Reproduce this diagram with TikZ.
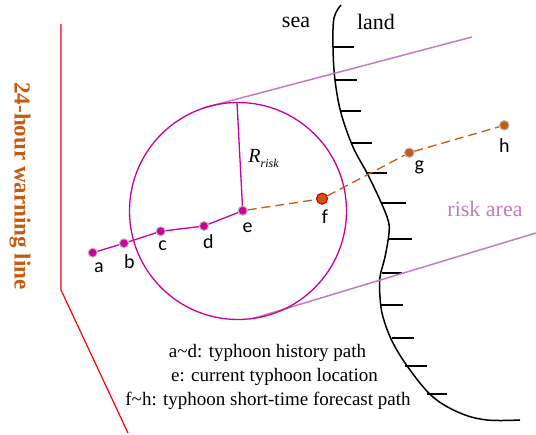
\documentclass[tikz,border=0pt]{standalone}
\usepackage{fontspec}
\setmainfont{Liberation Serif}
\newfontfamily\labfont{Carlito}
\definecolor{mag}{HTML}{CC0099}
\definecolor{purp}{HTML}{C27DC0}
\definecolor{orng}{HTML}{C55A11}
\definecolor{halo}{HTML}{B8B8B8}
\tikzset{
  hdot/.style={circle,fill=mag,draw=halo,line width=1pt,inner sep=0pt,minimum size=9pt},
  fdot/.style={circle,fill=orng,draw=red!85!black,line width=1.2pt,inner sep=0pt,minimum size=11pt},
  gdot/.style={circle,fill=orng,draw=halo,line width=1pt,inner sep=0pt,minimum size=9.5pt},
  lab/.style={font=\labfont\fontsize{20}{20}\selectfont,inner sep=0pt},
  legend/.style={font=\rmfamily\fontsize{19}{19}\selectfont,inner sep=0pt},
  bigtext/.style={font=\rmfamily\fontsize{22}{22}\selectfont,inner sep=0pt},
  histline/.style={draw=mag,line width=1.3pt},
  fcline/.style={draw=orng,line width=1.3pt,dash pattern=on 9pt off 5pt},
  tangent/.style={draw=purp,line width=1.5pt},
  coast/.style={draw=black,line width=1.5pt},
}
\begin{document}
\begin{tikzpicture}[x=1pt,y=-1pt]
\useasboundingbox (0,0) rectangle (536,435);
% warning line
\draw[red,line width=1.2pt] (61,24) -- (61,290) -- (128,433);
\node[rotate=-90,inner sep=0pt,text=orng,font=\rmfamily\bfseries\fontsize{23}{23}\selectfont] (warn) at (20,186) {24-hour warning line};
% coast
\draw[coast] plot[smooth,tension=0.6] coordinates {(341,5) (334,18) (333,47) (335,80) (341,113) (353,147) (367,173) (380,200) (388,220) (389,233) (385,257) (380,277) (380,297) (383,317) (393,343) (410,370) (433,397) (460,413) (487,420) (520,420)};
\foreach \y/\xa/\xb in {47/333/354, 80/335/357, 111/340/361, 143/351/372, 173/366/387, 203/382/406, 239/389/412, 273/382/402, 305/381/403, 338/392/414, 366/405/427, 394/427/447}
  \draw[line width=1.5pt] (\xa,\y) -- (\xb,\y);
\node[bigtext] (sea) at (296,22) {sea};
\node[bigtext] (land) at (376,22) {land};
% tangent lines
\coordinate (t1a) at (203,108);
\coordinate (t1b) at (472,37);
\coordinate (t2a) at (253,318.5);
\coordinate (t2b) at (536,233);
\draw[tangent] (t1a) -- (t1b);
\draw[tangent] (t2a) -- (t2b);
\node[bigtext,text=purp] (risk) at (485,209) {risk area};
% circle
\draw[mag,line width=1.3pt] (238,211) circle (108.5);
\coordinate (rtop) at (237,103);
% points
\node[hdot] (a) at (92.7,252.7) {};
\node[hdot] (b) at (124,243.3) {};
\node[hdot] (c) at (160.7,231.3) {};
\node[hdot] (d) at (204,226) {};
\node[hdot] (e) at (242.7,210.7) {};
\node[fdot] (f) at (322,198.7) {};
\node[gdot] (g) at (409.3,152.7) {};
\node[gdot] (h) at (504.3,125.3) {};
\draw[mag,line width=1.3pt] (e.center) -- (rtop);
\draw[histline] (a) -- (b) -- (c) -- (d) -- (e);
\draw[fcline] (e) -- (f) -- (g) -- (h);
\node[hdot] at (e) {};
% labels
\node[lab] (la) at (99,268) {a};
\node[lab] (lb) at (129.3,261.7) {b};
\node[lab] (lc) at (162.7,246) {c};
\node[lab] (ld) at (208.3,241.5) {d};
\node[lab] (le) at (247.7,227.3) {e};
\node[lab] (lf) at (325,216.7) {f};
\node[lab] (lg) at (419.3,167.5) {g};
\node[lab] (lh) at (504.3,145.7) {h};
\node[inner sep=0pt,font=\rmfamily\fontsize{20}{20}\selectfont] (R) at (263.5,158.5) {\textit{R}\raisebox{-0.55ex}{\fontsize{12}{12}\selectfont\itshape risk}};
% legend
\node[legend] (l1) at (267.5,353) {a\textasciitilde d: typhoon history path};
\node[legend] (l2) at (274.5,377) {e: current typhoon location};
\node[legend] (l3) at (268,401) {f\textasciitilde h: typhoon short-time forecast path};
\end{tikzpicture}
\end{document}
